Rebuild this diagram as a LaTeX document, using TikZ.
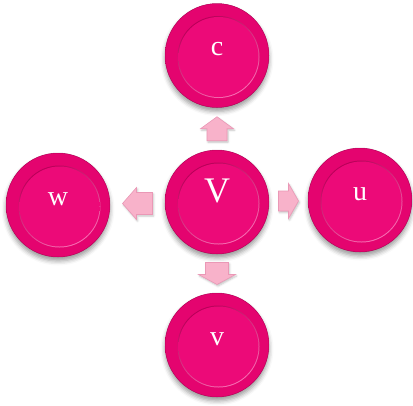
\documentclass[tikz,border=0pt]{standalone}
\usepackage{fontspec}
\setmainfont{Liberation Serif}
\usetikzlibrary{shadows.blur,calc}
\definecolor{mag}{HTML}{E4046F}
\definecolor{magdark}{HTML}{C2005D}
\definecolor{magrim}{HTML}{B80058}
\definecolor{maglight}{HTML}{F870B4}
\definecolor{magin}{HTML}{EC0A78}
\definecolor{arrowfill}{HTML}{F8B2CA}
\definecolor{arrowdraw}{HTML}{EA98B6}
\pgfdeclareradialshading{ballshade}{\pgfpoint{0bp}{0bp}}{color(0bp)=(mag); color(36bp)=(mag); color(46bp)=(magdark!70!mag); color(50bp)=(magdark)}
\pgfdeclareradialshading{innershade}{\pgfpoint{0bp}{0bp}}{color(0bp)=(magin); color(42bp)=(magin); color(50bp)=(mag)}
\begin{document}
\begin{tikzpicture}[x=1pt,y=-1pt,
  ball/.style={circle, minimum size=104pt, inner sep=0pt, text=white,
    text height=10pt, text depth=10pt,
    font=\fontsize{28}{30}\selectfont,
    fill=mag, draw=magrim!60!black, draw opacity=0.4, line width=0.5pt,
    blur shadow={shadow xshift=0pt, shadow yshift=-4pt, shadow opacity=40, shadow blur radius=4.5pt},
    path picture={
      \coordinate (pc) at (path picture bounding box.center);
      \shade[shading=ballshade] (pc) circle (52pt);
      \shade[top color=magrim, bottom color=maglight, shading angle=30]
        ($(pc)+(1.5pt,-1.5pt)$) circle (41pt);
      \shade[shading=innershade] ($(pc)+(1.5pt,-1.5pt)$) circle (40pt);
    }},
  arrowst/.style={draw=arrowdraw, fill=arrowfill, line width=0.6pt, line join=miter,
    blur shadow={shadow xshift=1pt, shadow yshift=-1.5pt, shadow opacity=25, shadow blur radius=2pt}},
  pics/blk/.style n args={4}{code={
    \path[arrowst] ({-#1/2},{-#2}) -- ({#1/2-#4},{-#2}) -- ({#1/2-#4},{-#3})
      -- ({#1/2},0) -- ({#1/2-#4},{#3}) -- ({#1/2-#4},{#2}) -- ({-#1/2},{#2}) -- cycle;
  }}
]
\useasboundingbox (0,0) rectangle (413,405);
\node[ball] (c) at (217,55.5) {c};
\node[ball, font=\fontsize{36}{38}\selectfont] (V) at (217,202) {V};
\node[ball] (w) at (58,205) {w};
\node[ball] (u) at (360,200) {u};
\node[ball] (v) at (217,345) {v};
\coordinate (mup) at ($(V.north)!0.5!(c.south)$);
\coordinate (mleft) at ($(w.east)!0.5!(V.west)$);
\coordinate (mright) at ($(V.east)!0.5!(u.west)$);
\coordinate (mdown) at ($(V.south)!0.5!(v.north)$);
\pic[rotate=90] at (mup) {blk={24}{10}{16.5}{12}};
\pic[rotate=180] at (mleft) {blk={30}{11}{16}{14}};
\pic at (mright) {blk={20}{10}{17.5}{10}};
\pic[rotate=-90] at (mdown) {blk={22}{11.5}{18.5}{10}};
\end{tikzpicture}
\end{document}
